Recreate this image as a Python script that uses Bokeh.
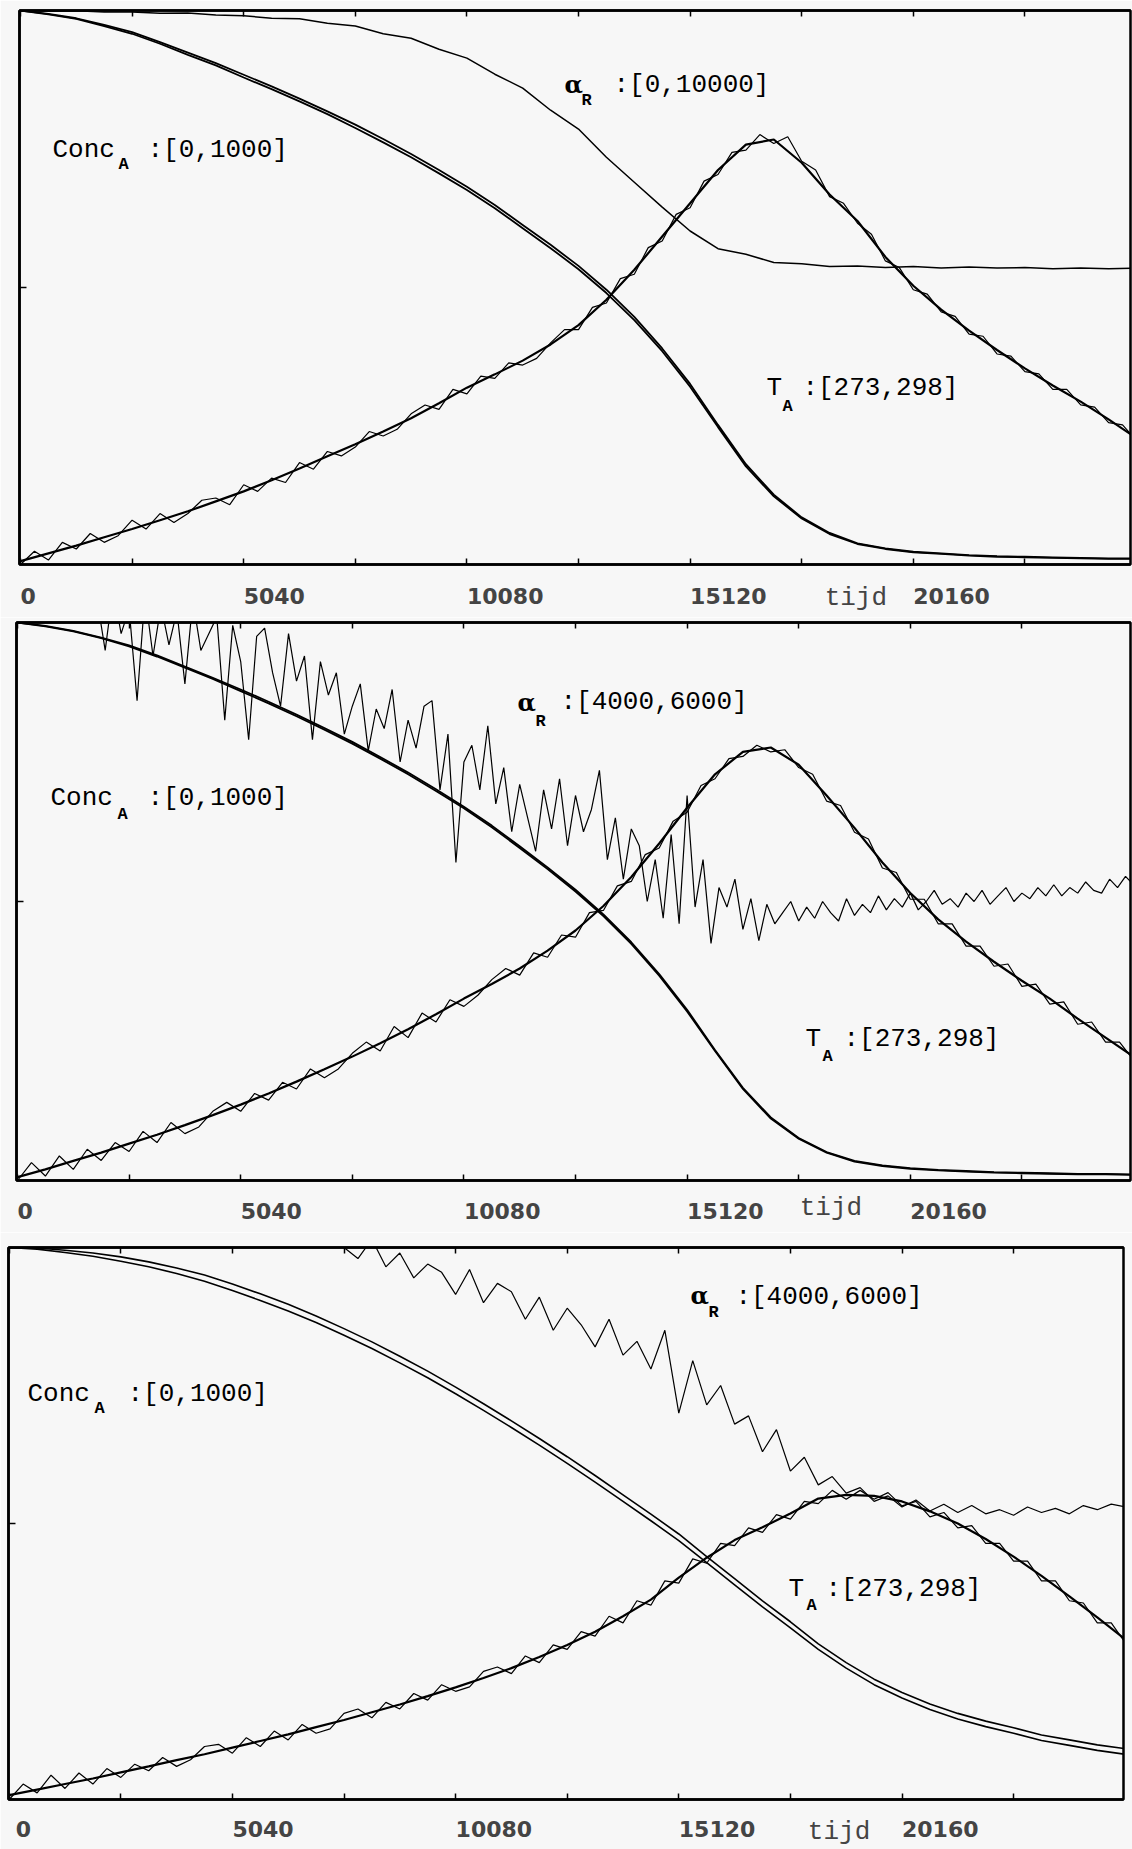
from bokeh.plotting import figure
from bokeh.models import Range1d, LinearAxis, FixedTicker, Label
from bokeh.embed import file_html
from bokeh.resources import INLINE

# ---------------- data ----------------
TIME_SMOOTH = [630 * k for k in range(41)]      # tijd grid of smooth curves
TIME_NOISY = [315 * k for k in range(81)]       # tijd grid of measured curves
TIME_DENSE = [180 * k for k in range(141)]      # tijd grid of the densest measured curve

X_TICKS = [0, 2520, 5040, 7560, 10080, 12600, 15120, 17640, 20160, 22680]
X_TICK_LABELS = ["0", "", "5040", "", "10080", "", "15120", "", "20160", ""]
X_TITLE = "tijd"

CONC_RANGE = (0, 1000)
T_RANGE = (273, 298)
ALPHA_RANGE_P1 = (0, 10000)
ALPHA_RANGE_P23 = (4000, 6000)

# panel 1
CONC_P1_SIM = [1000, 994, 986, 974, 961, 943, 924, 905, 884, 863, 841, 818, 794, 768, 741, 712, 682, 649, 613, 577,
               539, 496, 447, 390, 326, 252, 181, 126, 85, 57, 38, 29, 23, 20, 17, 15, 14, 13, 12, 11, 11]
CONC_P1_EST = [1000, 993, 985, 972, 958, 940, 920, 901, 879, 858, 836, 813, 788, 762, 735, 706, 676, 643, 607, 571,
               533, 490, 441, 385, 321, 248, 177, 123, 83, 55, 37, 28, 22, 19, 16, 14, 13, 12, 11, 10, 10]
ALPHA_P1 = [10000, 9990, 9995, 9975, 9975, 9950, 9955, 9920, 9905, 9860, 9850, 9770, 9720, 9580, 9500, 9300, 9140,
            8850, 8600, 8200, 7860, 7350, 6900, 6450, 6020, 5700, 5600, 5450, 5430, 5380, 5390, 5360, 5380, 5350,
            5370, 5350, 5360, 5340, 5350, 5340, 5350]
T_P1_SMOOTH = [273.15, 273.50, 273.85, 274.23, 274.60, 275.00, 275.40, 275.85, 276.30, 276.80, 277.33, 277.88,
               278.43, 279.00, 279.60, 280.28, 280.98, 281.58, 282.20, 282.93, 283.80, 284.95, 286.30, 287.80,
               289.30, 290.80, 291.95, 292.18, 291.13, 289.70, 288.50, 286.88, 285.58, 284.50, 283.55, 282.68,
               281.85, 281.08, 280.35, 279.55, 278.70]
T_P1_NOISY = [273.0, 273.6, 273.2, 274.0, 273.7, 274.4, 274.0, 274.3, 275.0, 274.6,
              275.3, 274.9, 275.3, 275.9, 276.0, 275.7, 276.6, 276.3, 276.9, 276.7,
              277.6, 277.3, 278.1, 277.9, 278.3, 279.0, 278.8, 279.1, 279.8, 280.2,
              280.0, 280.9, 280.7, 281.5, 281.4, 282.1, 282.0, 282.3, 283.0, 283.6,
              283.6, 284.6, 284.8, 285.9, 286.1, 287.3, 287.6, 288.8, 289.1, 290.3,
              290.6, 291.6, 291.7, 292.4, 292.0, 292.3, 291.2, 290.8, 289.6, 289.3,
              288.4, 287.9, 286.7, 286.4, 285.4, 285.2, 284.4, 284.2, 283.4, 283.3,
              282.5, 282.4, 281.7, 281.6, 280.9, 280.9, 280.2, 280.1, 279.4, 279.3,
              278.6]

# panel 2
CONC_P2_SIM = [1000, 994, 985, 973, 959, 941, 921, 901, 880, 858, 835, 811, 786, 759, 731, 701, 670, 636, 599, 561,
               521, 477, 427, 370, 306, 234, 166, 113, 76, 51, 35, 27, 22, 19, 17, 15, 14, 13, 12, 12, 11]
CONC_P2_EST = [1000, 993, 984, 972, 957, 939, 919, 899, 877, 855, 832, 808, 783, 756, 728, 698, 667, 633, 596, 558,
               518, 474, 424, 367, 303, 232, 164, 111, 75, 50, 34, 26, 21, 18, 16, 14, 13, 12, 11, 11, 10]
ALPHA_P2 = [6320, 6280, 6350, 6260, 6300, 6220, 6260, 6180, 6230, 6150,
            6080, 5900, 6120, 5960, 6050, 5720, 6100, 5880, 6060, 5920,
            6040, 5780, 6080, 5900, 5960, 6020, 5650, 5990, 5860, 5580,
            5950, 5980, 5820, 5700, 5960, 5790, 5880, 5580, 5860, 5740,
            5820, 5600, 5700, 5780, 5540, 5690, 5620, 5760, 5500, 5650,
            5550, 5700, 5720, 5400, 5600, 5140, 5500, 5560, 5400, 5630,
            5350, 5480, 5250, 5420, 5300, 5180, 5400, 5260, 5440, 5200,
            5380, 5250, 5330, 5470, 5150, 5300, 5080, 5260, 5200, 5000,
            5150, 4940, 5240, 4920, 5380, 4980, 5150, 4850, 5050, 4980,
            5080, 4900, 5010, 4860, 4990, 4920, 4960, 5000, 4930, 4980,
            4940, 5000, 4960, 4930, 5010, 4950, 4990, 4960, 5020, 4970,
            5010, 4980, 5030, 4970, 5000, 5040, 4990, 5010, 4980, 5030,
            5000, 5040, 4990, 5020, 5050, 5000, 5030, 5010, 5050, 5020,
            5060, 5020, 5050, 5030, 5070, 5040, 5030, 5080, 5050, 5090,
            5060]
T_P2_SMOOTH = [273.15, 273.50, 273.88, 274.25, 274.65, 275.05, 275.48, 275.93, 276.40, 276.90, 277.43, 277.98,
               278.55, 279.15, 279.78, 280.45, 281.15, 281.80, 282.50, 283.30, 284.20, 285.30, 286.60, 288.10,
               289.70, 291.20, 292.20, 292.40, 291.63, 290.25, 288.80, 287.25, 285.88, 284.70, 283.70, 282.80,
               281.95, 281.15, 280.25, 279.40, 278.55]
T_P2_NOISY = [273.0, 273.8, 273.2, 274.1, 273.5, 274.4, 273.9, 274.7, 274.3, 275.2,
              274.7, 275.6, 275.1, 275.4, 276.1, 276.5, 276.1, 276.9, 276.6, 277.4,
              277.1, 278.0, 277.6, 278.0, 278.7, 279.2, 278.8, 279.9, 279.4, 280.5,
              280.1, 281.1, 280.8, 281.3, 282.0, 282.5, 282.2, 283.2, 283.0, 284.0,
              283.9, 285.0, 285.1, 286.2, 286.4, 287.6, 287.9, 289.1, 289.5, 290.7,
              291.0, 291.9, 292.0, 292.5, 292.2, 292.3, 291.5, 291.2, 290.0, 289.8,
              288.6, 288.3, 287.0, 286.8, 285.6, 285.6, 284.5, 284.5, 283.5, 283.5,
              282.6, 282.7, 281.7, 281.8, 280.9, 281.0, 280.0, 280.1, 279.2, 279.2,
              278.4]

# panel 3
CONC_P3_SIM = [1000, 999, 995, 990, 983, 974, 963, 950, 934, 916, 897, 876, 853, 829, 803, 776, 747, 717, 686, 654,
               621, 587, 552, 517, 481, 440, 400, 360, 322, 282, 248, 218, 194, 173, 156, 142, 130, 117, 108, 99, 92]
CONC_P3_EST = [1000, 997, 991, 984, 975, 965, 953, 939, 922, 904, 885, 864, 841, 817, 791, 764, 735, 705, 674, 642,
               609, 575, 540, 505, 469, 429, 389, 349, 311, 272, 238, 208, 184, 163, 146, 132, 120, 107, 98, 89, 82]
ALPHA_P3 = [6500, 6480, 6470, 6450, 6440, 6420, 6400, 6390, 6370, 6350,
            6330, 6310, 6290, 6270, 6250, 6230, 6200, 6180, 6160, 6130,
            6110, 6080, 6060, 6030, 6000, 5960, 6030, 5930, 5980, 5890,
            5940, 5910, 5830, 5920, 5800, 5870, 5840, 5740, 5820, 5700,
            5780, 5720, 5640, 5740, 5610, 5660, 5560, 5700, 5400, 5590,
            5430, 5500, 5360, 5390, 5260, 5340, 5190, 5240, 5140, 5170,
            5110, 5130, 5080, 5100, 5060, 5085, 5045, 5070, 5040, 5065,
            5035, 5050, 5030, 5060, 5040, 5055, 5035, 5065, 5050, 5070,
            5060]
T_P3_SMOOTH = [273.20, 273.45, 273.70, 273.95, 274.23, 274.50, 274.78, 275.05, 275.35, 275.65,
               275.95, 276.28, 276.60, 276.95, 277.30, 277.68, 278.08, 278.50, 278.95, 279.45,
               280.00, 280.60, 281.30, 282.05, 283.05, 283.95, 284.75, 285.33, 285.95, 286.63,
               286.80, 286.75, 286.50, 286.05, 285.50, 284.80, 284.00, 283.13, 282.20, 281.25,
               280.25]
T_P3_NOISY = [273.0, 273.7, 273.3, 274.1, 273.5, 274.2, 273.7, 274.4, 274.0, 274.6,
              274.3, 274.9, 274.5, 274.8, 275.4, 275.5, 275.1, 275.8, 275.4, 276.1,
              275.7, 276.4, 276.0, 276.2, 276.9, 277.1, 276.7, 277.4, 277.1, 277.8,
              277.5, 278.2, 277.9, 278.1, 278.8, 279.0, 278.7, 279.5, 279.2, 280.0,
              279.8, 280.6, 280.4, 281.3, 281.0, 282.0, 281.8, 282.9, 282.8, 283.9,
              283.7, 284.6, 284.5, 285.3, 285.1, 285.9, 285.7, 286.5, 286.4, 287.0,
              286.6, 287.0, 286.6, 286.9, 286.3, 286.5, 285.8, 286.0, 285.3, 285.4,
              284.6, 284.6, 283.8, 283.8, 282.9, 282.9, 282.0, 281.9, 281.0, 281.0,
              280.1]

# ---------------- styling ----------------
BG = "#f7f7f7"
MONO = "Liberation Mono"
SERIF = "DejaVu Serif"
TICKFONT = "DejaVu Sans"
FIG_W = 1132
PX_PER_T = 111.6 / 2520.0
FIGSP = "\u2007"   # figure space: pads a tick label so that it starts at its tick
NBSP = "\u00a0"    # pads the axis title so that it sits right of centre
MONO_CHAR_PX = 15.6


def txt(p, x, y, text, font=MONO, size="26px", style="normal"):
    p.add_layout(Label(x=x, y=y, text=text, text_font=font, text_font_size=size,
                       text_font_style=style, text_baseline="alphabetic", text_align="left",
                       text_color="black"))


def tick_style(ax, tick_in):
    ax.major_tick_line_color = None
    ax.major_tick_in = 0
    ax.major_tick_out = 0
    ax.minor_tick_in = tick_in
    ax.minor_tick_out = 0
    ax.minor_tick_line_width = 1.5
    ax.minor_tick_line_color = "black"
    ax.axis_line_width = 2.5


def make_panel(height, b_top, b_bottom, b_left, b_right, t0_px, alpha_rng, conc_a, conc_b, alpha, alpha_t,
               t_smooth, t_noisy, conc_w, alpha_w, labels, standoff, tijd_px, tijd_standoff):
    frame_w = FIG_W - b_left - b_right
    x0 = -(t0_px - b_left) / PX_PER_T
    xr = Range1d(x0, x0 + frame_w / PX_PER_T)
    p = figure(width=FIG_W, height=height, x_range=xr, y_range=Range1d(*CONC_RANGE),
               output_backend="svg", toolbar_location=None,
               min_border_top=b_top, min_border_bottom=b_bottom, min_border_left=b_left,
               min_border_right=b_right, background_fill_color=BG, border_fill_color=BG,
               outline_line_color="black", outline_line_width=2.5)
    p.extra_y_ranges = {"alpha": Range1d(*alpha_rng), "temp": Range1d(*T_RANGE)}
    p.xgrid.visible = False
    p.ygrid.visible = False

    major = [t for t, l in zip(X_TICKS, X_TICK_LABELS) if l]
    xa = p.xaxis[0]
    xa.ticker = FixedTicker(ticks=major, minor_ticks=X_TICKS)
    xa.major_label_overrides = {t: FIGSP * len(l) + l for t, l in zip(X_TICKS, X_TICK_LABELS) if l}
    xa.major_label_text_font = TICKFONT
    xa.major_label_text_font_style = "bold"
    xa.major_label_text_font_size = "22px"
    xa.major_label_standoff = standoff
    # axis title, shifted from the frame centre to where the reference prints it
    centre = b_left + frame_w / 2.0
    n_pad = int(round((tijd_px - centre + 2 * MONO_CHAR_PX) / (MONO_CHAR_PX / 2.0)))
    xa.axis_label = NBSP * n_pad + X_TITLE
    xa.axis_label_text_font = MONO
    xa.axis_label_text_font_size = "26px"
    xa.axis_label_text_font_style = "normal"
    xa.axis_label_standoff = tijd_standoff
    tick_style(xa, 6)

    ya = p.yaxis[0]
    ya.ticker = FixedTicker(ticks=[], minor_ticks=[500])
    tick_style(ya, 7)

    top = LinearAxis(ticker=FixedTicker(ticks=[], minor_ticks=X_TICKS))
    tick_style(top, 6)
    p.add_layout(top, "above")

    p.line(TIME_SMOOTH, conc_a, line_color="black", line_width=conc_w)
    p.line(TIME_SMOOTH, conc_b, line_color="black", line_width=conc_w)
    p.line(alpha_t, alpha, line_color="black", line_width=alpha_w, y_range_name="alpha")
    p.line(TIME_SMOOTH, t_smooth, line_color="black", line_width=2.2, y_range_name="temp")
    p.line(TIME_NOISY, t_noisy, line_color="black", line_width=1.2, y_range_name="temp")

    for (x, y, text, font, size, style) in labels:
        txt(p, x, y, text, font, size, style)
    return p


labels1 = [
    (722, 749, "Conc", MONO, "26px", "normal"),
    (2212, 722, "A", MONO, "17px", "bold"),
    (2867, 749, ":[0,1000]", MONO, "26px", "normal"),
    (12282, 866, "α", SERIF, "24px", "bold"),
    (12666, 837, "R", MONO, "17px", "bold"),
    (13389, 866, ":[0,10000]", MONO, "26px", "normal"),
    (16843, 319, "T", MONO, "26px", "normal"),
    (17204, 285, "A", MONO, "17px", "bold"),
    (17656, 319, ":[273,298]", MONO, "26px", "normal"),
]
labels2 = [
    (745, 686, "Conc", MONO, "26px", "normal"),
    (2257, 656, "A", MONO, "17px", "bold"),
    (2935, 686, ":[0,1000]", MONO, "26px", "normal"),
    (11289, 857, "α", SERIF, "24px", "bold"),
    (11695, 822, "R", MONO, "17px", "bold"),
    (12260, 857, ":[4000,6000]", MONO, "26px", "normal"),
    (17791, 253, "T", MONO, "26px", "normal"),
    (18175, 222, "A", MONO, "17px", "bold"),
    (18650, 253, ":[273,298]", MONO, "26px", "normal"),
]
labels3 = [
    (413, 735, "Conc", MONO, "26px", "normal"),
    (1926, 708, "A", MONO, "17px", "bold"),
    (2671, 735, ":[0,1000]", MONO, "26px", "normal"),
    (15383, 913, "α", SERIF, "24px", "bold"),
    (15789, 883, "R", MONO, "17px", "bold"),
    (16398, 910, ":[4000,6000]", MONO, "26px", "normal"),
    (17595, 381, "T", MONO, "26px", "normal"),
    (18002, 352, "A", MONO, "17px", "bold"),
    (18431, 381, ":[273,298]", MONO, "26px", "normal"),
]

p1 = make_panel(617, 10, 53, 19, 2, 20, ALPHA_RANGE_P1, CONC_P1_SIM, CONC_P1_EST, ALPHA_P1, TIME_SMOOTH,
                T_P1_SMOOTH, T_P1_NOISY, 1.8, 1.5, labels1, 19, 827, -29)
p2 = make_panel(615, 5, 52, 16, 2, 17, ALPHA_RANGE_P23, CONC_P2_SIM, CONC_P2_EST, ALPHA_P2, TIME_DENSE,
                T_P2_SMOOTH, T_P2_NOISY, 1.8, 1.2, labels2, 18, 798, -34)
p3 = make_panel(617, 15, 49, 8, 9, 8.7, ALPHA_RANGE_P23, CONC_P3_SIM, CONC_P3_EST, ALPHA_P3, TIME_NOISY,
                T_P3_SMOOTH, T_P3_NOISY, 1.6, 1.2, labels3, 17, 806, -28)

open("out.html", "w").write(file_html([p1, p2, p3], INLINE))
